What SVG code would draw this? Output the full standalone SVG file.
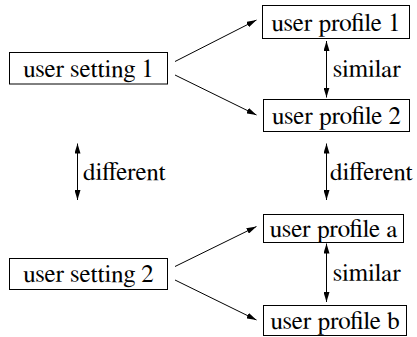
<svg xmlns="http://www.w3.org/2000/svg" width="417" height="337" viewBox="0 0 417 337">
<style>
.box{fill:#fff;stroke:#000;stroke-width:1}
.t{font-family:'FreeSerif',monospace;font-size:25px;fill:#000}
.c{stroke:#000;stroke-width:1;fill:none}
</style>
<defs>
<marker id="ah" viewBox="0 0 10 6" refX="10" refY="3" markerWidth="10" markerHeight="6" markerUnits="userSpaceOnUse" orient="auto-start-reverse">
<path d="M0,0 L10,3 L0,6 z" fill="#000"/>
</marker>
</defs>
<rect width="417" height="337" fill="#fff"/>
<g id="us1"><rect class="box" x="9.5" y="52.5" width="158" height="31.5"/><text class="t" x="88.5" y="76.5" text-anchor="middle">user setting 1</text></g>
<g id="up1"><rect class="box" x="262.5" y="5.5" width="147" height="33" stroke-width="1.6"/><text class="t" x="336" y="30.5" text-anchor="middle">user profile 1</text></g>
<g id="up2"><rect class="box" x="263.5" y="99.5" width="146" height="32"/><text class="t" x="336.5" y="124" text-anchor="middle">user profile 2</text></g>
<g id="upa"><rect class="box" x="263.5" y="214.5" width="140" height="28"/><text class="t" x="333.5" y="236.5" text-anchor="middle">user profile a</text></g>
<g id="us2"><rect class="box" x="9.5" y="258.5" width="158" height="31"/><text class="t" x="88.5" y="282" text-anchor="middle">user setting 2</text></g>
<g id="upb"><rect class="box" x="263.5" y="305.5" width="143" height="30"/><text class="t" x="335" y="328.5" text-anchor="middle">user profile b</text></g>
<g id="connectors">
<line class="c" x1="175" y1="61.5" x2="256.5" y2="20" marker-end="url(#ah)"/>
<line class="c" x1="175" y1="75" x2="256.5" y2="115" marker-end="url(#ah)"/>
<line class="c" x1="326.5" y1="41" x2="326.5" y2="97.5" marker-start="url(#ah)" marker-end="url(#ah)"/>
<line class="c" x1="77.5" y1="143.5" x2="77.5" y2="200" marker-start="url(#ah)" marker-end="url(#ah)"/>
<line class="c" x1="326.5" y1="143.5" x2="326.5" y2="200" marker-start="url(#ah)" marker-end="url(#ah)"/>
<line class="c" x1="175" y1="266.5" x2="256.5" y2="226.5" marker-end="url(#ah)"/>
<line class="c" x1="175" y1="280" x2="256.5" y2="320" marker-end="url(#ah)"/>
<line class="c" x1="326.5" y1="243.5" x2="326.5" y2="302" marker-start="url(#ah)" marker-end="url(#ah)"/>
<text class="t" x="333" y="77">similar</text>
<text class="t" x="83" y="180">different</text>
<text class="t" x="330" y="180">different</text>
<text class="t" x="333" y="281">similar</text>
</g>
</svg>
